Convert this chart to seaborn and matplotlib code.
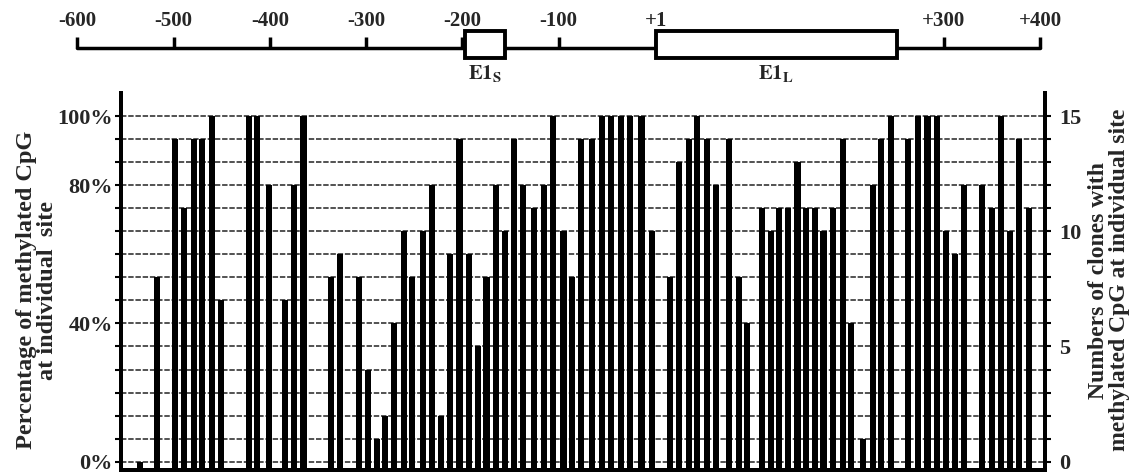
import matplotlib
matplotlib.use('Agg')
import matplotlib.pyplot as plt
import seaborn as sns
import pandas as pd
import numpy as np
from matplotlib.patches import Rectangle

# CpG sites (bp relative to +1) and number of methylated clones out of 15
cpg_pos = [-535, -517, -498, -489, -479, -470, -460, -451, -422, -413,
           -401, -384, -375, -365, -336, -327, -307, -298, -289, -280,
           -271, -261, -252, -241, -232, -222, -213, -203, -193, -184,
           -175, -165, -156, -146, -137, -126, -115, -106, -95, -86,
           -77, -65, -55, -46, -35, -26, -14, -3, 16, 25,
           35, 44, 54, 63, 77, 87, 96, 111, 120, 129,
           138, 148, 157, 166, 175, 185, 195, 204, 216, 226,
           235, 245, 263, 273, 283, 293, 302, 312, 321, 340,
           350, 359, 369, 378, 388]
clones = [0, 8, 14, 11, 14, 14, 15, 7, 15, 15,
          12, 7, 12, 15, 8, 9, 8, 4, 1, 2,
          6, 10, 8, 10, 12, 2, 9, 14, 9, 5,
          8, 12, 10, 14, 12, 11, 12, 15, 10, 8,
          14, 14, 15, 15, 15, 15, 15, 10, 8, 13,
          14, 15, 14, 12, 14, 8, 6, 11, 10, 11,
          11, 13, 11, 11, 10, 11, 14, 6, 1, 12,
          14, 15, 14, 15, 15, 15, 10, 9, 12, 12,
          11, 15, 10, 14, 11]
n_clones = 15

ruler_ticks = [-600, -500, -400, -300, -200, -100, 1, 300, 400]
ruler_labels = ['-600', '-500', '-400', '-300', '-200', '-100', '+1', '+300', '+400']
exon_names = [r'$\mathbf{E1_S}$', r'$\mathbf{E1_L}$']
exon_start = [-197, 1]
exon_end = [-156, 251]

pct_ticks = [0, 6, 12, 15]
pct_labels = ['0%', '40%', '80%', '100%']
count_ticks = [0, 5, 10, 15]

df = pd.DataFrame({'pos': cpg_pos, 'clones': clones})

sns.set_theme(style='white')
plt.rcParams['font.family'] = ['Liberation Serif', 'DejaVu Serif']
plt.rcParams['font.weight'] = 'bold'
plt.rcParams['mathtext.fontset'] = 'stix'

W, H = 1132, 473
fig = plt.figure(figsize=(W / 100, H / 100), dpi=100)


def px2bp(x):
    return (x - 655) / 0.963


# bar panel
ybot = -0.36
ax = fig.add_axes([121 / W, 1 - 470 / H, (1045 - 121) / W, (470 - 93) / H])
sns.barplot(data=df, x='pos', y='clones', native_scale=True, color='black',
            saturation=1, linewidth=0, ax=ax, zorder=3)
bw = 6.3
for p in ax.patches:
    cx = p.get_x() + p.get_width() / 2
    h = p.get_height()
    p.set_x(cx - bw / 2)
    p.set_width(bw)
    p.set_y(ybot)
    p.set_height(h - ybot)

ax.set_xlim(px2bp(121), px2bp(1045))
ax.set_ylim(ybot, 16)
ax.hlines(range(n_clones + 1), px2bp(121), px2bp(1045), color='#444444',
          lw=1.3, ls=(0, (3, 1)), zorder=1)
ax.set_xticks([])
ax.set_xlabel('')
ax.set_ylabel('')
ax.set_yticks(pct_ticks)
ax.set_yticklabels(pct_labels)
ax.set_yticks(range(n_clones + 1), minor=True)
ax.tick_params(axis='y', which='both', direction='out', length=4, width=1.5,
               color='black', left=True, labelsize=16, pad=2)
for s in ['left', 'right', 'bottom']:
    ax.spines[s].set_color('black')
    ax.spines[s].set_linewidth(2.8)
ax.spines['top'].set_visible(False)

ax2 = ax.twinx()
ax2.set_ylim(ybot, 16)
ax2.set_yticks(count_ticks)
ax2.set_yticks(range(n_clones + 1), minor=True)
ax2.tick_params(axis='y', which='both', direction='out', length=4, width=1.5,
                color='black', right=True, labelsize=16, pad=6)
for s in ['left', 'right', 'bottom']:
    ax2.spines[s].set_color('black')
    ax2.spines[s].set_linewidth(2.8)
ax2.spines['top'].set_visible(False)
ax2.grid(False)
ax.grid(False)

fig.text(37 / W, 1 - 290 / H, 'Percentage of methylated CpG\nat individual  site',
         rotation=90, ha='center', va='center', multialignment='center',
         fontsize=17.5, fontweight='bold', linespacing=0.95)
fig.text(1109 / W, 1 - 280 / H, 'Numbers of clones with\nmethylated CpG at individual site',
         rotation=90, ha='center', va='center', multialignment='center',
         fontsize=17, fontweight='bold', linespacing=0.95)

# gene ruler on top
rax = fig.add_axes([0, 1 - 90 / H, 1, 90 / H])
rax.set_xlim(px2bp(0), px2bp(W))
rax.set_ylim(90, 0)
rax.axis('off')
rax.plot([ruler_ticks[0], ruler_ticks[-1]], [48, 48], color='black', lw=2.5, zorder=1)
rax.vlines(ruler_ticks, 37, 48, color='black', lw=2.5, zorder=1)
for t, lab in zip(ruler_ticks, ruler_labels):
    rax.text(t, 21, lab, ha='center', va='center', fontsize=15, fontweight='bold')
for s, e, name in zip(exon_start, exon_end, exon_names):
    rax.add_patch(Rectangle((s, 31), e - s, 27, facecolor='white', edgecolor='black',
                            lw=2.8, zorder=3))
    rax.text((s + e) / 2, 74, name, ha='center', va='center', fontsize=15)

fig.savefig('out.png', dpi=100)
